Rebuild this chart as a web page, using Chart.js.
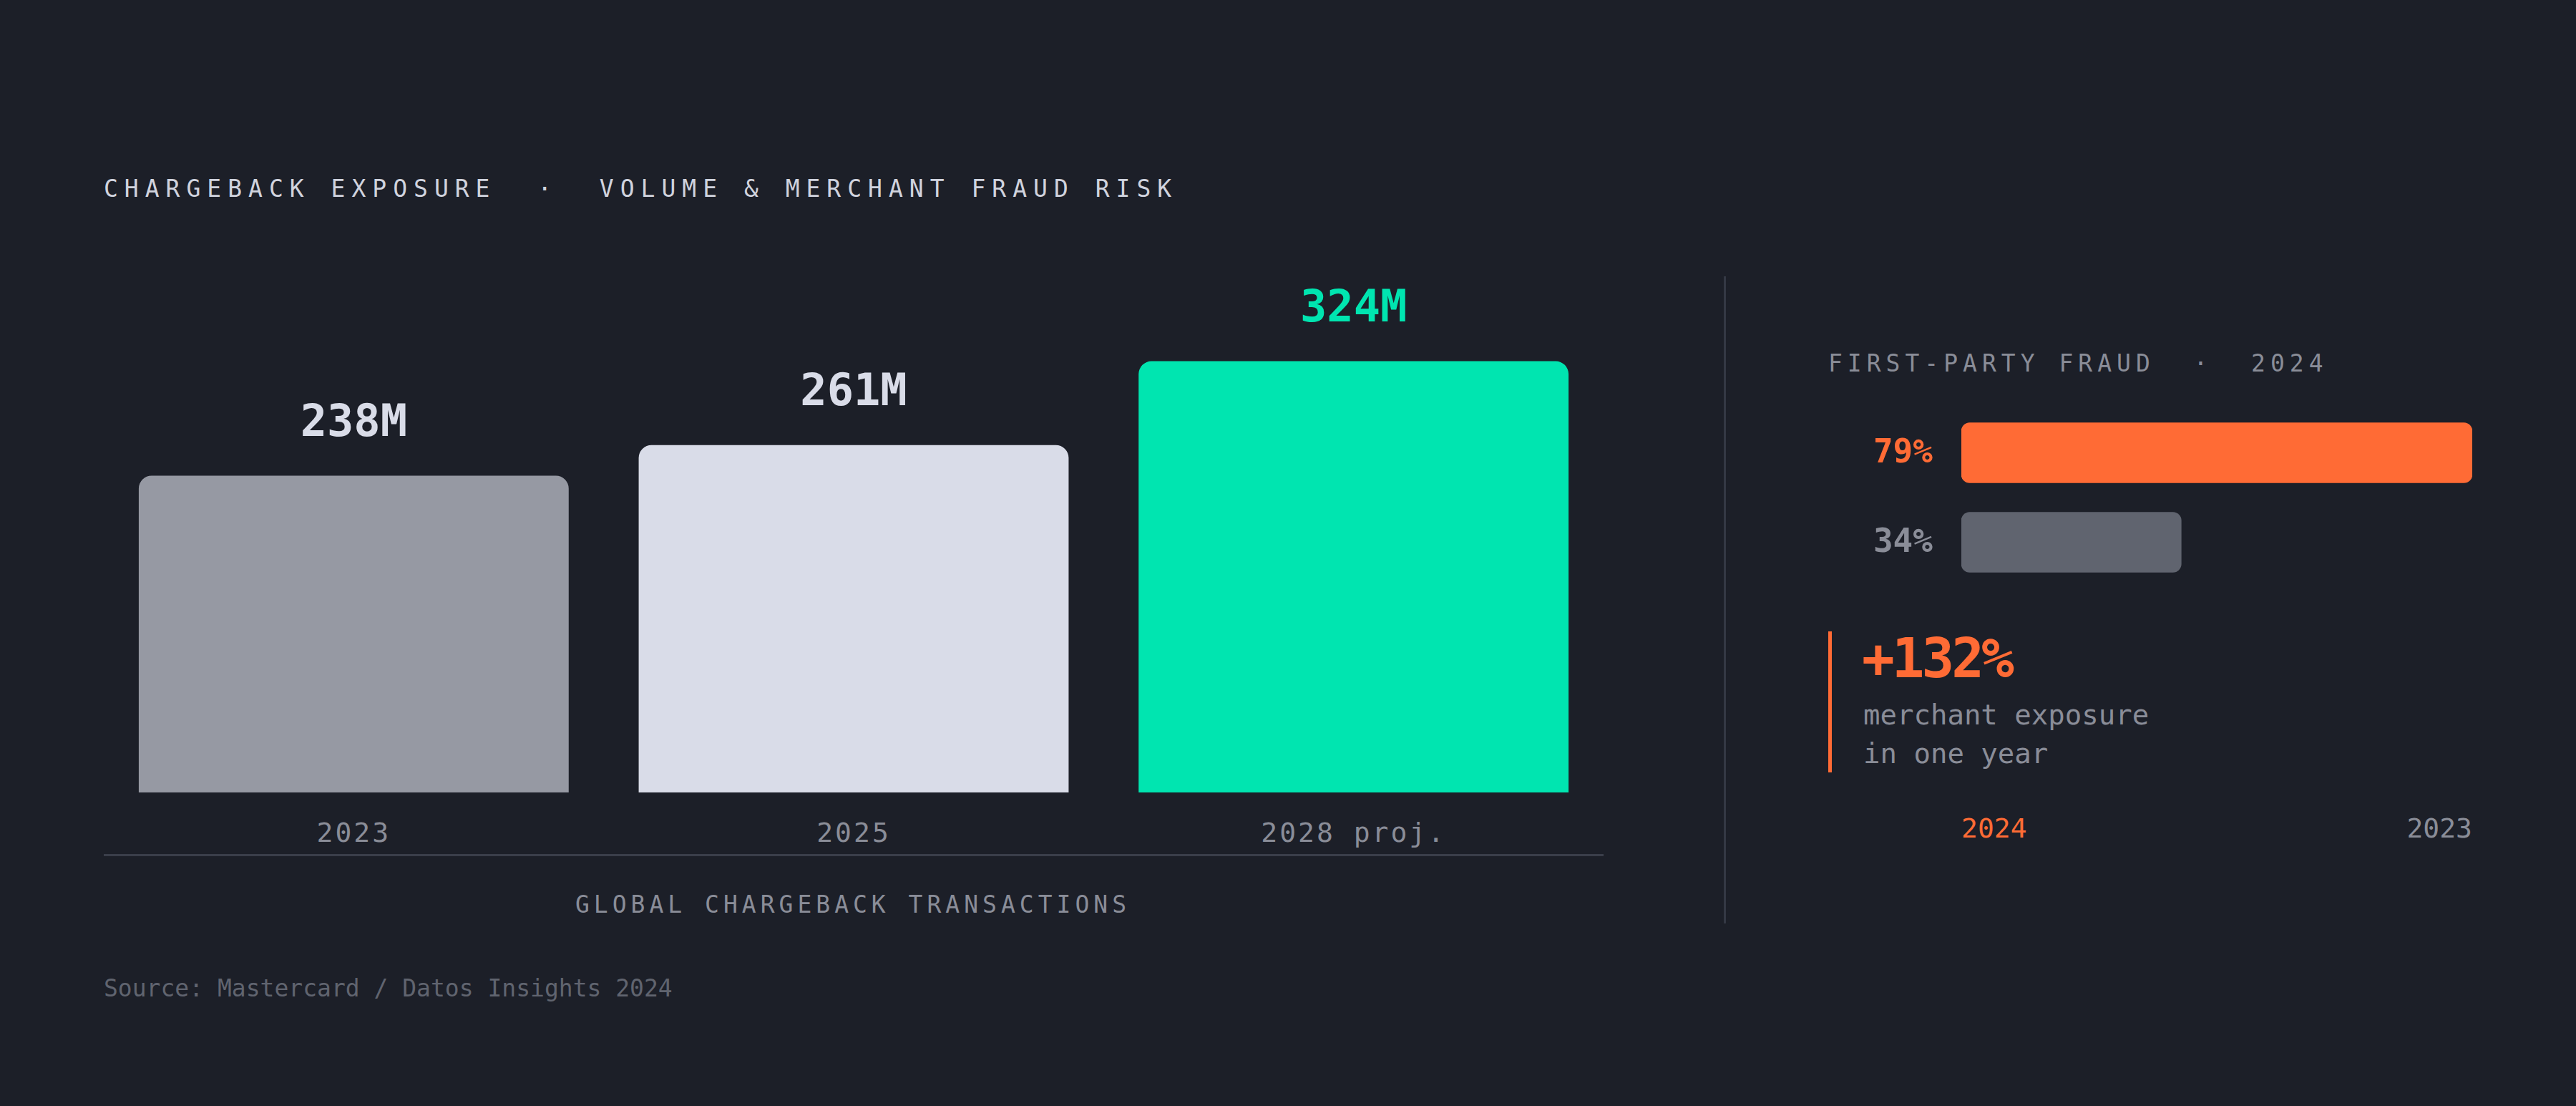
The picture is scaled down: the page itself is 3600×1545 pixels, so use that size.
<!DOCTYPE html>
<html>
<head>
<meta charset="utf-8">
<script src="https://cdn.jsdelivr.net/npm/chart.js@4"></script>
<style>
  html, body { margin: 0; padding: 0; background: #1c1f28; }
  body { width: 3600px; height: 1545px; position: relative; overflow: hidden; font-family: "DejaVu Sans Mono", monospace; }
  .t { position: absolute; line-height: 1; transform: translateY(-50%); white-space: pre; }
  canvas { position: absolute; }
</style>
</head>
<body>
<div class="t" style="left:145px;top:263px;font-size:33px;letter-spacing:9px;color:#d0d3de;">CHARGEBACK EXPOSURE  ·  VOLUME &amp; MERCHANT FRAUD RISK</div>

<div id="leftWrap" style="position:absolute;left:145px;top:380px;width:2096px;height:727px;"><canvas id="volChart"></canvas></div>
<div id="catLabels"></div>
<div style="position:absolute;left:145px;top:1193px;width:2096px;height:3px;background:#3a3e4a;"></div>
<div class="t" style="left:1192px;top:1263px;transform:translate(-50%,-50%);font-size:33px;letter-spacing:6px;color:#8a8d98;">GLOBAL CHARGEBACK TRANSACTIONS</div>
<div class="t" style="left:145px;top:1380px;font-size:33px;color:#60646f;">Source: Mastercard / Datos Insights 2024</div>

<div style="position:absolute;left:2409px;top:386px;width:3px;height:904px;background:#343844;"></div>

<div class="t" style="left:2555px;top:507px;font-size:33px;letter-spacing:7px;color:#8a8d98;">FIRST-PARTY FRAUD  ·  2024</div>
<div id="rightWrap" style="position:absolute;left:2600px;top:570px;width:855px;height:250px;"><canvas id="fraudChart"></canvas></div>

<div style="position:absolute;left:2555px;top:882px;width:5px;height:197px;background:#ff6b35;"></div>
<div class="t" style="left:2602px;top:920px;font-size:76px;font-weight:bold;letter-spacing:-4px;color:#ff6b35;">+132%</div>
<div class="t" style="left:2604px;top:998px;font-size:39px;color:#8a8d98;">merchant exposure</div>
<div class="t" style="left:2604px;top:1052px;font-size:39px;color:#8a8d98;">in one year</div>
<div class="t" style="left:2741px;top:1157px;font-size:38px;color:#ff6b35;">2024</div>
<div class="t" style="left:3455px;top:1157px;transform:translate(-100%,-50%);font-size:38px;color:#8a8d98;">2023</div>

<script>
const years = ['2023', '2025', '2028 proj.'];
const volumes = [238, 261, 324];
const volLabels = ['238M', '261M', '324M'];
const volColors = ['#9699a3', '#d9dce8', '#00e5b0'];
const volLabelColors = ['#d9dce8', '#d9dce8', '#00e5b0'];

const fraudRows = ['2024', '2023'];
const fraudShares = [79, 34];
const fraudLabels = ['79%', '34%'];
const fraudColors = ['#ff6b35', '#60646f'];
const fraudLabelColors = ['#ff6b35', '#8a8d98'];

Chart.defaults.animation = false;

const topLabels = {
    id: 'topLabels',
    afterDatasetsDraw(chart, args, opts) {
        const ctx = chart.ctx;
        const meta = chart.getDatasetMeta(0);
        ctx.save();
        ctx.font = opts.font;
        meta.data.forEach((bar, i) => {
            ctx.fillStyle = opts.colors[i];
            if (opts.horizontal) {
                ctx.textAlign = 'right';
                ctx.textBaseline = 'middle';
                ctx.fillText(opts.labels[i], chart.chartArea.left - 40, bar.y + 2);
            } else {
                ctx.textAlign = 'center';
                ctx.textBaseline = 'middle';
                ctx.fillText(opts.labels[i], bar.x, bar.y - 72);
            }
        });
        ctx.restore();
    }
};

new Chart(document.getElementById('volChart'), {
    type: 'bar',
    data: {
        labels: years,
        datasets: [{
            data: volumes,
            backgroundColor: volColors,
            borderRadius: { topLeft: 18, topRight: 18 },
            borderSkipped: 'bottom',
            categoryPercentage: 0.86,
            barPercentage: 1
        }]
    },
    options: {
        responsive: true,
        maintainAspectRatio: false,
        layout: { padding: 0 },
        plugins: {
            legend: { display: false },
            tooltip: { enabled: false },
            topLabels: { labels: volLabels, colors: volLabelColors, font: 'bold 62px "DejaVu Sans Mono"' }
        },
        scales: {
            x: { display: false },
            y: { display: false, min: 0, max: 391 }
        }
    },
    plugins: [topLabels]
});

// category labels under the bars
const cl = document.getElementById('catLabels');
years.forEach((y, i) => {
    const d = document.createElement('div');
    d.className = 't';
    d.textContent = y;
    d.style.cssText = 'font-size:38px;letter-spacing:3px;color:#8a8d98;top:1163px;transform:translate(-50%,-50%);left:' + (145 + 2096 / 3 * (i + 0.5)) + 'px;';
    cl.appendChild(d);
});

new Chart(document.getElementById('fraudChart'), {
    type: 'bar',
    data: {
        labels: fraudRows,
        datasets: [{
            data: fraudShares,
            backgroundColor: fraudColors,
            borderRadius: 12,
            borderSkipped: false,
            barThickness: 84
        }]
    },
    options: {
        indexAxis: 'y',
        responsive: true,
        maintainAspectRatio: false,
        layout: { padding: { left: 141 } },
        plugins: {
            legend: { display: false },
            tooltip: { enabled: false },
            topLabels: { horizontal: true, labels: fraudLabels, colors: fraudLabelColors, font: 'bold 46px "DejaVu Sans Mono"' }
        },
        scales: {
            x: { display: false, min: 0, max: 79 },
            y: { display: false }
        }
    },
    plugins: [topLabels]
});
</script>
</body>
</html>
